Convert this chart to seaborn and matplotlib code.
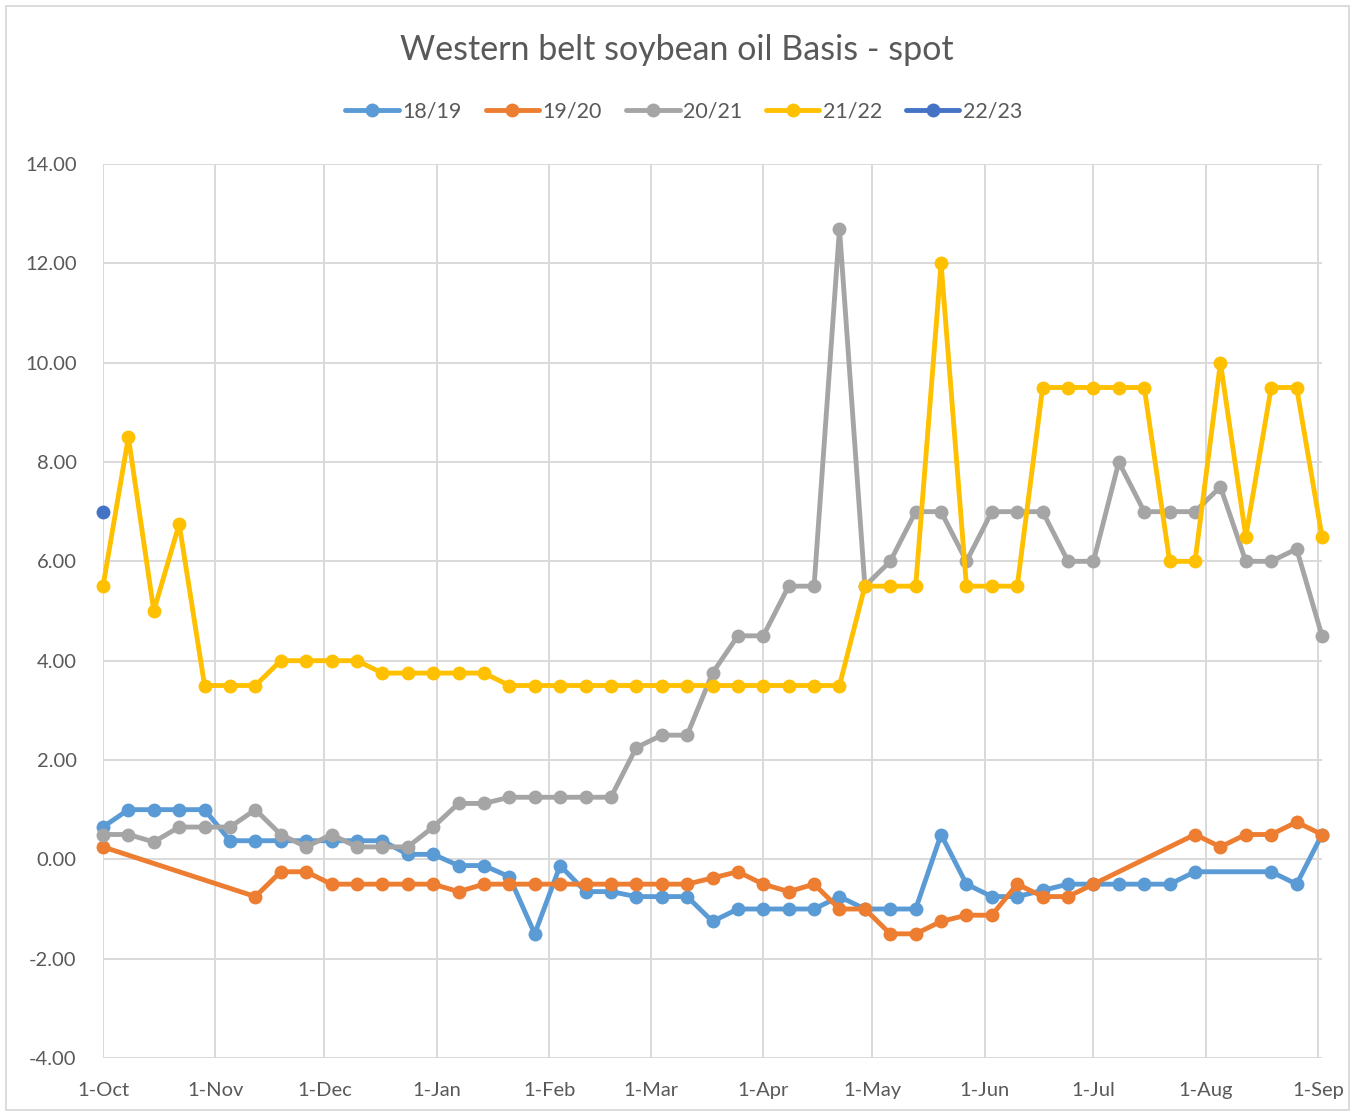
import numpy as np
import pandas as pd
import matplotlib
matplotlib.use("Agg")
import matplotlib.pyplot as plt
import matplotlib.dates as mdates
from matplotlib.patches import Rectangle
import seaborn as sns

# weekly observations, season Oct -> Sep (49 weeks)
weeks = pd.date_range("2021-10-01", periods=49, freq="7D")
nan = np.nan

s1819 = [0.65, 1.0, 1.0, 1.0, 1.0, 0.375, 0.375, 0.375, 0.375, 0.375,
         0.375, 0.375, 0.1, 0.1, -0.125, -0.125, -0.35, -1.5, -0.125, -0.65,
         -0.65, -0.75, -0.75, -0.75, -1.25, -1.0, -1.0, -1.0, -1.0, -0.75,
         -1.0, -1.0, -1.0, 0.5, -0.5, -0.75, -0.75, -0.625, -0.5, -0.5,
         -0.5, -0.5, -0.5, -0.25, nan, nan, -0.25, -0.5, 0.5]

s1920 = [0.25, nan, nan, nan, nan, nan, -0.75, -0.25, -0.25, -0.5,
         -0.5, -0.5, -0.5, -0.5, -0.65, -0.5, -0.5, -0.5, -0.5, -0.5,
         -0.5, -0.5, -0.5, -0.5, -0.375, -0.25, -0.5, -0.65, -0.5, -1.0,
         -1.0, -1.5, -1.5, -1.25, -1.125, -1.125, -0.5, -0.75, -0.75, -0.5,
         nan, nan, nan, 0.5, 0.25, 0.5, 0.5, 0.75, 0.5]

s2021 = [0.5, 0.5, 0.35, 0.65, 0.65, 0.65, 1.0, 0.5, 0.25, 0.5,
         0.25, 0.25, 0.25, 0.65, 1.125, 1.125, 1.25, 1.25, 1.25, 1.25,
         1.25, 2.25, 2.5, 2.5, 3.75, 4.5, 4.5, 5.5, 5.5, 12.7,
         5.5, 6.0, 7.0, 7.0, 6.0, 7.0, 7.0, 7.0, 6.0, 6.0,
         8.0, 7.0, 7.0, 7.0, 7.5, 6.0, 6.0, 6.25, 4.5]

s2122 = [5.5, 8.5, 5.0, 6.75, 3.5, 3.5, 3.5, 4.0, 4.0, 4.0,
         4.0, 3.75, 3.75, 3.75, 3.75, 3.75, 3.5, 3.5, 3.5, 3.5,
         3.5, 3.5, 3.5, 3.5, 3.5, 3.5, 3.5, 3.5, 3.5, 3.5,
         5.5, 5.5, 5.5, 12.0, 5.5, 5.5, 5.5, 9.5, 9.5, 9.5,
         9.5, 9.5, 6.0, 6.0, 10.0, 6.5, 9.5, 9.5, 6.5]

s2223 = [7.0] + [nan] * 48

labels = ["18/19", "19/20", "20/21", "21/22", "22/23"]
colors = ["#5B9BD5", "#ED7D31", "#A5A5A5", "#FFC000", "#4472C4"]
series = [s1819, s1920, s2021, s2122, s2223]

sns.set_style("white")
plt.rcParams["font.family"] = ["Lato", "DejaVu Sans"]
txt = "#595959"

fig = plt.figure(figsize=(13.54, 11.15), dpi=100)
ax = fig.add_axes([103 / 1354, 1 - 1058 / 1115, 1219 / 1354, 894 / 1115])

for lab, col, vals in zip(labels, colors, series):
    df = pd.DataFrame({"week": weeks, "basis": vals}).dropna()
    sns.lineplot(data=df, x="week", y="basis", ax=ax, color=col, label=lab,
                 linewidth=3.5, marker="o", markersize=10, markeredgewidth=0,
                 clip_on=False)

ax.set_xlim(weeks[0], weeks[-1])
ax.set_ylim(-4, 14)
ax.set_yticks(np.arange(-4, 14.01, 2))
ax.yaxis.set_major_formatter(plt.FuncFormatter(lambda v, p: f"{v:.2f}"))
ax.xaxis.set_major_locator(mdates.MonthLocator())
ax.xaxis.set_major_formatter(plt.FuncFormatter(
    lambda v, p: f"{mdates.num2date(v).day}-{mdates.num2date(v).strftime('%b')}"))

ax.grid(True, color="#D9D9D9", linewidth=1.4)
ax.set_axisbelow(True)
for sp in ax.spines.values():
    sp.set_visible(False)
ax.tick_params(axis="both", length=0, labelsize=14.5, labelcolor=txt)
ax.tick_params(axis="x", pad=17)
ax.tick_params(axis="y", pad=19)
ax.set_xlabel("")
ax.set_ylabel("")

handles, labs = ax.get_legend_handles_labels()
ax.legend_.remove()
fig.legend(handles, labs, loc="center", bbox_to_anchor=(0.505, 1 - 112 / 1115),
           ncol=5, frameon=False, fontsize=15.5, labelcolor=txt,
           handlelength=2.5, handletextpad=0.15, columnspacing=1.1)

fig.text(0.5, 1 - 50 / 1115, "Western belt soybean oil Basis - spot",
         ha="center", va="center", fontsize=24.5, color=txt)

fig.patches.append(Rectangle((6 / 1354, 5 / 1115), 1343 / 1354, 1104 / 1115,
                             transform=fig.transFigure, fill=False,
                             edgecolor="#D9D9D9", linewidth=1.3))

fig.savefig("out.png", dpi=100)
